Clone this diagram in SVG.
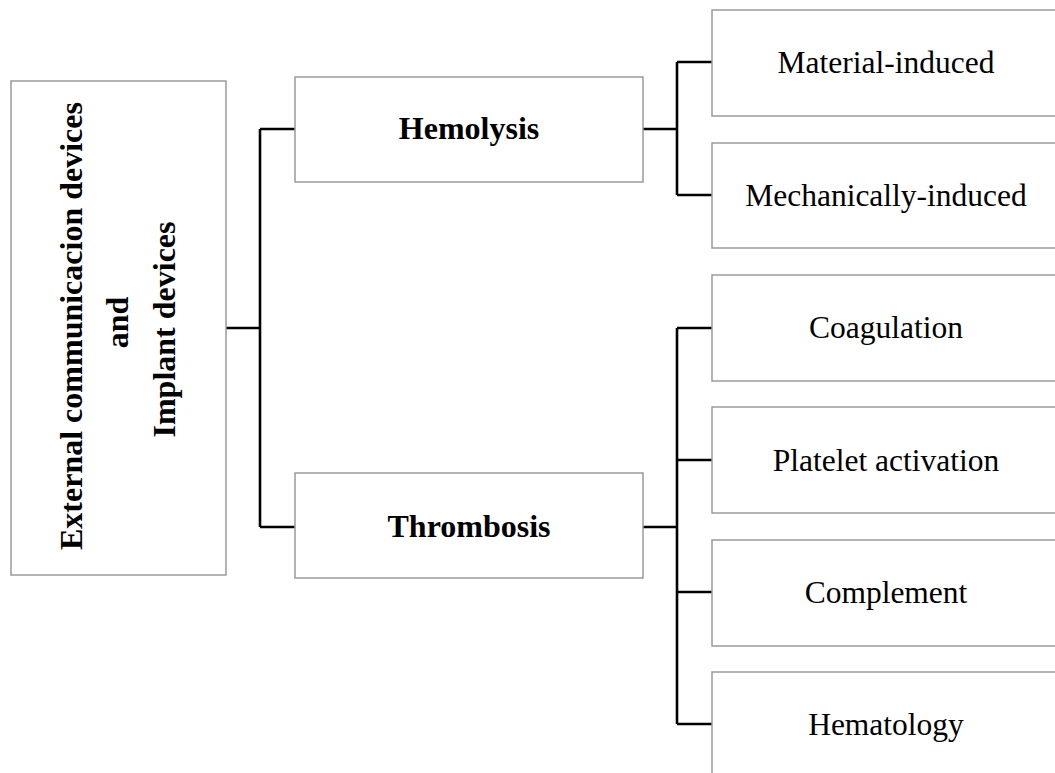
<svg xmlns="http://www.w3.org/2000/svg" width="1055" height="773" viewBox="0 0 1055 773">
<style>
.box{fill:#fff;stroke:#9a9a9a;stroke-width:1.5}
.conn{fill:none;stroke:#000;stroke-width:2.6}
.b{font-family:"Liberation Serif","Times New Roman",serif;font-weight:bold;font-size:32px;fill:#000;text-anchor:middle}
.r{font-family:"Liberation Serif","Times New Roman",serif;font-size:31.5px;fill:#000;text-anchor:middle}
</style>
<rect width="1055" height="773" fill="#fff"/>
<g id="connectors">
<path class="conn" d="M226 328 H260 M260 129 V527 M260 129 H295 M260 527 H295"/>
<path class="conn" d="M643 129 H677 M677 62 V195 M677 62 H712 M677 195 H712"/>
<path class="conn" d="M643 527 H677 M677 328 V724 M677 328 H712 M677 460 H712 M677 592 H712 M677 724 H712"/>
</g>
<g id="root">
<rect class="box" x="11" y="81" width="215" height="494"/>
<text class="b" transform="translate(82,326) rotate(-90)">External communicacion devices</text>
<text class="b" transform="translate(128,322.5) rotate(-90)">and</text>
<text class="b" transform="translate(175,329.5) rotate(-90)">Implant devices</text>
</g>
<g id="hemolysis">
<rect class="box" x="295" y="77" width="348" height="105"/>
<text class="b" x="469" y="139">Hemolysis</text>
</g>
<g id="thrombosis">
<rect class="box" x="295" y="473" width="348" height="105"/>
<text class="b" x="469" y="537">Thrombosis</text>
</g>
<g id="material">
<rect class="box" x="712" y="10" width="360" height="106"/>
<text class="r" x="886" y="73">Material-induced</text>
</g>
<g id="mechanical">
<rect class="box" x="712" y="143" width="360" height="105"/>
<text class="r" x="886" y="206">Mechanically-induced</text>
</g>
<g id="coagulation">
<rect class="box" x="712" y="275" width="360" height="106"/>
<text class="r" x="886" y="338">Coagulation</text>
</g>
<g id="platelet">
<rect class="box" x="712" y="407" width="360" height="106"/>
<text class="r" x="886" y="471">Platelet activation</text>
</g>
<g id="complement">
<rect class="box" x="712" y="540" width="360" height="106"/>
<text class="r" x="886" y="603">Complement</text>
</g>
<g id="hematology">
<rect class="box" x="712" y="672" width="360" height="120"/>
<text class="r" x="886" y="735">Hematology</text>
</g>
</svg>
